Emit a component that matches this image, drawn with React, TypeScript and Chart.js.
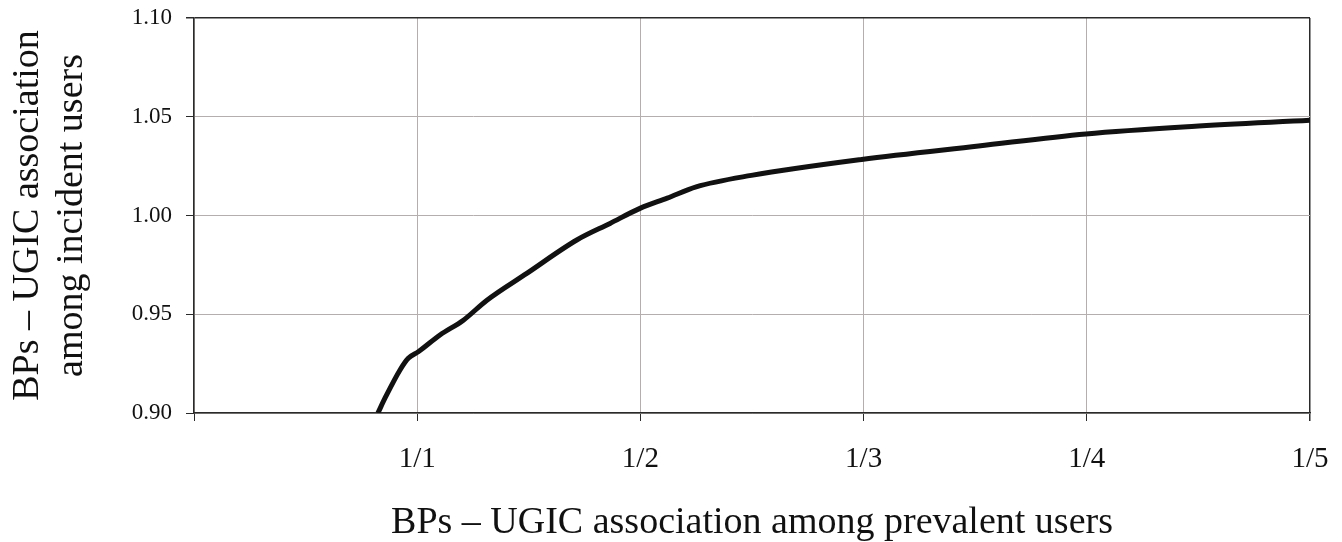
import React, { useEffect, useRef } from "react";
import { Chart, registerables } from "chart.js";

Chart.register(...registerables);

const xTickLabels = ["", "1/1", "1/2", "1/3", "1/4", "1/5"];
const yTickValues = [0.9, 0.95, 1.0, 1.05, 1.1];
const prevalentX = [0.824, 0.86, 0.923, 0.96, 1.005, 1.102, 1.207, 1.311, 1.491, 1.715, 1.864, 1.998, 2.12, 2.25, 2.497, 2.991, 3.515, 3.996, 4.47, 5.0];
const incidentY = [0.9, 0.9085, 0.9218, 0.9277, 0.931, 0.9395, 0.947, 0.957, 0.9707, 0.9876, 0.996, 1.0036, 1.0088, 1.0145, 1.0203, 1.0284, 1.0352, 1.0413, 1.0451, 1.0482];
const xTitle = "BPs \u2013 UGIC association among prevalent users";
const yTitle = ["BPs \u2013 UGIC association", "among incident users"];

const SERIF = '"Liberation Serif", "Times New Roman", serif';
const GRID = "#b5aeae";
const DARK = "#2a2a2a";

export default function App() {
  const ref = useRef<HTMLCanvasElement | null>(null);

  useEffect(() => {
    if (!ref.current) return;
    Chart.defaults.font.family = SERIF;
    const points = prevalentX.map((x, i) => ({ x, y: incidentY[i] }));
    const chart = new Chart(ref.current, {
      type: "line",
      data: {
        datasets: [
          {
            data: points,
            borderColor: "#111111",
            borderWidth: 5,
            pointRadius: 0,
            cubicInterpolationMode: "monotone",
            fill: false,
          },
        ],
      },
      options: {
        animation: false,
        responsive: false,
        maintainAspectRatio: false,
        layout: { padding: { top: 18, right: 32, left: 0, bottom: 0 } },
        plugins: { legend: { display: false }, tooltip: { enabled: false } },
        scales: {
          x: {
            type: "linear",
            min: 0,
            max: 5,
            afterFit: (s: any) => {
              s.height = 129;
              s.paddingLeft = 0;
              s.paddingRight = 0;
            },
            ticks: {
              stepSize: 1,
              padding: 21,
              color: "#111",
              font: { size: 29, family: SERIF },
              callback: (v: any) => xTickLabels[Math.round(Number(v))] ?? "",
            },
            grid: {
              color: (c: any) => (c.index === 5 ? DARK : GRID),
              lineWidth: (c: any) => (c.index === 5 ? 1.5 : 1),
              tickColor: DARK,
              tickLength: 8,
              drawTicks: true,
            },
            border: { display: true, color: DARK, width: 1.5 },
            title: {
              display: true,
              text: xTitle,
              color: "#111",
              font: { size: 38, family: SERIF, lineHeight: 1 },
              padding: { top: 0, bottom: 0 },
            },
          },
          y: {
            type: "linear",
            min: 0.9,
            max: 1.1,
            afterFit: (s: any) => {
              s.width = 194;
              s.paddingTop = 0;
              s.paddingBottom = 0;
            },
            afterBuildTicks: (s: any) => {
              s.ticks = yTickValues.map((v) => ({ value: v }));
            },
            ticks: {
              padding: 14,
              color: "#111",
              font: { size: 23, family: SERIF },
              callback: (v: any) => Number(v).toFixed(2),
            },
            grid: {
              color: (c: any) => (c.index === 4 ? DARK : GRID),
              lineWidth: (c: any) => (c.index === 4 ? 1.5 : 1),
              tickColor: DARK,
              tickLength: 8,
            },
            border: { display: true, color: DARK, width: 1.5 },
            title: {
              display: true,
              text: yTitle,
              color: "#111",
              font: { size: 38, family: SERIF, lineHeight: 1.16 },
              padding: { top: 6, bottom: 0 },
            },
          },
        },
      },
    });
    return () => chart.destroy();
  }, []);

  return (
    <div style={{ position: "fixed", left: 0, top: 0, width: 1342, height: 542, background: "#fff" }}>
      <canvas ref={ref} width={1342} height={542} style={{ width: 1342, height: 542, display: "block" }} />
    </div>
  );
}
